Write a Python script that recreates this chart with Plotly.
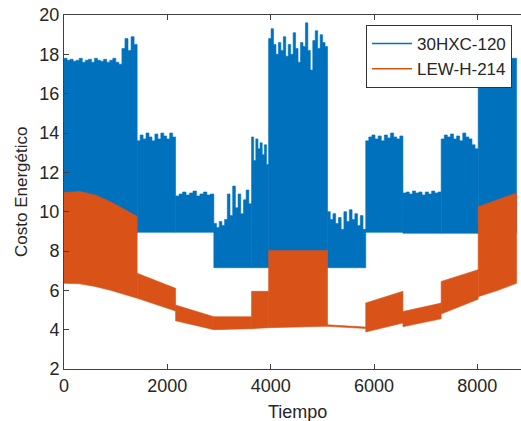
import plotly.graph_objects as go
import numpy as np

# ---------------- data ----------------
series_names = ["30HXC-120", "LEW-H-214"]

# 30HXC-120: segment boundaries (hours), lower envelope per segment,
# and the ragged upper envelope read along each segment
blue_breaks = [0, 1416, 2160, 2900, 3630, 3960, 5100, 5840, 6560, 7300, 8016, 8760]
blue_low = [8.9, 8.95, 8.95, 7.15, 7.15, 7.15, 7.15, 8.95, 8.9, 8.9, 8.9]
blue_top_1 = [17.8, 17.7, 17.75, 17.65, 17.7, 17.8, 17.6, 17.7, 17.75, 17.6, 17.8, 17.7,
              17.65, 17.75, 17.6, 17.7, 17.8, 17.6, 17.5, 18.3, 18.8, 18.2, 18.9, 18.5]
blue_top_2 = [13.6, 13.9, 13.7, 14.0, 13.8, 13.6, 13.95, 13.7, 14.0, 13.85, 13.7, 14.0, 13.8]
blue_top_3 = [10.8, 10.9, 11.0, 10.85, 10.95, 11.05, 10.8, 10.9, 11.0, 10.85, 10.9]
blue_top_4 = [9.4, 9.2, 9.5, 9.3, 9.6, 10.9, 9.8, 11.3, 10.2, 10.9, 9.9, 10.6, 11.1, 10.4]
blue_top_5 = [13.8, 12.6, 13.7, 13.2, 13.5, 12.9, 13.4, 12.4]
blue_top_6 = [18.8, 19.3, 18.5, 18.0, 18.6, 18.2, 18.9, 17.9, 18.5, 18.0, 19.1, 18.3,
              17.6, 18.6, 18.4, 19.6, 18.2, 17.2, 18.7, 19.2, 18.3, 19.0, 18.6, 18.4]
blue_top_7 = [10.0, 9.6, 9.9, 9.4, 9.7, 9.1, 10.0, 9.5, 10.1, 9.6, 9.9, 9.3, 9.8, 9.1]
blue_top_8 = [13.6, 13.8, 13.9, 13.7, 13.85, 13.6, 13.9, 13.75, 14.0, 13.8, 13.7, 13.85]
blue_top_9 = [10.95, 11.0, 10.9, 11.05, 10.95, 11.0, 10.85, 11.0, 10.9, 11.05, 10.95, 11.0]
blue_top_10 = [13.7, 13.9, 13.8, 13.95, 13.7, 13.85, 13.6, 14.0, 13.8, 13.7, 13.4, 13.2]
blue_top_11 = [17.8, 17.8]
blue_tops = [blue_top_1, blue_top_2, blue_top_3, blue_top_4, blue_top_5, blue_top_6,
             blue_top_7, blue_top_8, blue_top_9, blue_top_10, blue_top_11]

# LEW-H-214: band segments (x, upper envelope, lower envelope)
orange_x = [
    [0, 300, 600, 900, 1150, 1416],
    [1416, 2160],
    [2160, 2900],
    [2900, 3630],
    [3630, 3960],
    [3960, 5100],
    [5100, 5840],
    [5840, 6560],
    [6560, 7300],
    [7300, 8016],
    [8016, 8400, 8760],
]
orange_upper = [
    [10.97, 11.03, 10.85, 10.5, 10.15, 9.75],
    [6.87, 6.1],
    [5.25, 4.66],
    [4.66, 4.66],
    [5.95, 5.95],
    [8.02, 8.02],
    [4.25, 4.13],
    [5.36, 5.95],
    [4.92, 5.35],
    [6.45, 7.05],
    [10.25, 10.6, 10.95],
]
orange_lower = [
    [6.36, 6.33, 6.2, 6.0, 5.82, 5.6],
    [5.6, 4.95],
    [4.45, 4.0],
    [4.0, 4.05],
    [4.05, 4.1],
    [4.1, 4.17],
    [4.17, 4.06],
    [3.88, 4.34],
    [4.15, 4.55],
    [4.8, 5.55],
    [5.68, 6.0, 6.36],
]

x_ticks = [0, 2000, 4000, 6000, 8000]
y_ticks = [2, 4, 6, 8, 10, 12, 14, 16, 18, 20]

# ---------------- styling ----------------
BLUE = "#0072BD"
ORANGE = "#D95319"
AXIS = "#404040"
TEXT = "#262626"
FONT = "Liberation Sans, Arial, Helvetica, sans-serif"

fig = go.Figure()

# blue band segments
for i, tops in enumerate(blue_tops):
    x0, x1 = blue_breaks[i], blue_breaks[i + 1]
    xs = list(np.linspace(x0, x1, len(tops) + 1))[:-1]
    px = [x0] + xs + [x1, x1, x0]
    py = [blue_low[i]] + list(tops) + [tops[-1], blue_low[i], blue_low[i]]
    fig.add_trace(go.Scatter(x=px, y=py, mode="lines", fill="toself",
                             fillcolor=BLUE, line=dict(color=BLUE, width=0.6, shape="hv"),
                             hoverinfo="skip", showlegend=False))

# orange band segments
for xs, up, lo in zip(orange_x, orange_upper, orange_lower):
    px = list(xs) + list(xs)[::-1] + [xs[0]]
    py = list(up) + list(lo)[::-1] + [up[0]]
    fig.add_trace(go.Scatter(x=px, y=py, mode="lines", fill="toself",
                             fillcolor=ORANGE, line=dict(color=ORANGE, width=0.6),
                             hoverinfo="skip", showlegend=False))

# legend entries
for name, col in zip(series_names, [BLUE, ORANGE]):
    fig.add_trace(go.Scatter(x=[None], y=[None], mode="lines", name=name,
                             line=dict(color=col, width=1.5)))

W, H = 521, 421
L, R, T, B = 64, 0, 15, 52
pw, ph = W - L - R, H - T - B

def px_x(p):  # window pixel -> paper x
    return (p - L) / pw

def px_y(p):  # window pixel -> paper y
    return (H - B - p) / ph

fig.update_layout(
    width=W, height=H,
    margin=dict(l=L, r=R, t=T, b=B),
    paper_bgcolor="white", plot_bgcolor="white",
    font=dict(family=FONT, size=18, color=TEXT),
    showlegend=True,
    hovermode=False,
    legend=dict(x=px_x(366), y=px_y(25), xanchor="left", yanchor="top",
                bgcolor="white", bordercolor="#333333", borderwidth=1,
                font=dict(family=FONT, size=17, color=TEXT),
                itemwidth=40, tracegroupgap=0),
    xaxis=dict(range=[0, 8845], tickvals=x_ticks, ticktext=[str(v) for v in x_ticks],
               ticks="inside", ticklen=5, tickcolor=AXIS, showline=True, linecolor=AXIS,
               linewidth=1, mirror="ticks", showgrid=False, zeroline=False,
               automargin=False,
               tickfont=dict(family=FONT, size=18, color=TEXT)),
    yaxis=dict(range=[2, 20], tickvals=y_ticks, ticktext=[str(v) for v in y_ticks],
               ticks="inside", ticklen=5, tickcolor=AXIS, showline=True, linecolor=AXIS,
               linewidth=1, mirror=False, showgrid=False, zeroline=False,
               automargin=False,
               tickfont=dict(family=FONT, size=18, color=TEXT)),
    annotations=[
        dict(text="Tiempo", xref="paper", yref="paper", x=px_x(297),
             y=px_y(411.5), xanchor="center", yanchor="middle", showarrow=False,
             font=dict(family=FONT, size=18, color=TEXT)),
        dict(text="Costo Energético", xref="paper", yref="paper", x=px_x(21),
             y=0.5, xanchor="center", yanchor="middle", textangle=-90, showarrow=False,
             font=dict(family=FONT, size=17, color=TEXT)),
    ],
)

# remove the browser's default 8px body margin so the figure sits at the corner
fig.write_html("out.html",
               config={"displayModeBar": False, "staticPlot": True},
               post_script="document.body.style.margin='0';document.body.style.padding='0';")
